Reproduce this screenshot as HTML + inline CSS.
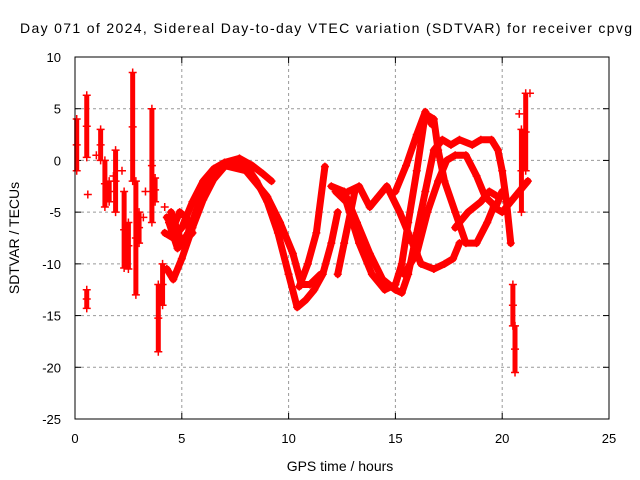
<!DOCTYPE html>
<html><head><meta charset="utf-8"><style>
body{margin:0;background:#fff;}
svg{display:block;font-family:"Liberation Sans",sans-serif;}
</style></head><body>
<svg id="c" width="640" height="480" xmlns="http://www.w3.org/2000/svg">
<text x="20" y="33" font-size="14" textLength="612">Day 071 of 2024, Sidereal Day-to-day VTEC variation (SDTVAR) for receiver cpvg</text>
<text x="340" y="471" font-size="14" text-anchor="middle">GPS time / hours</text>
<text transform="translate(19,238) rotate(-90)" font-size="14" text-anchor="middle">SDTVAR / TECUs</text>
<g id="grid"></g><g id="ticks"></g><g id="marks"></g>
<rect x="75" y="57" width="534" height="362" fill="none" stroke="#000" stroke-width="1"/>
</svg>
<script>
const xTicks=[0,5,10,15,20,25];
const yTicks=[10,5,0,-5,-10,-15,-20,-25];
const trackArc=[[4.3,-10.5],[4.6,-11.5],[5,-9.5],[5.5,-6.5],[6,-3.8],[6.5,-1.8],[7,-0.6],[7.5,-0.1],[8,-0.5],[8.5,-2],[9,-4],[9.5,-7],[10,-11],[10.4,-14.2],[10.8,-13.5],[11.2,-12.5],[11.6,-11],[12,-8],[12.3,-5]];
const trackArc2=[[4.2,-7],[4.6,-7.5],[5,-6.5],[5.5,-4],[6,-2],[6.5,-0.8],[7,-0.2],[7.7,0.2],[8.3,-0.5],[8.8,-1.3],[9.2,-2]];
const trackArc3=[[4.5,-5],[5,-8],[5.3,-7],[6,-3],[7,-0.5],[8,-1],[9,-3.5],[9.6,-6],[10.2,-9],[10.6,-12],[11,-12],[11.5,-11]];
const trackBlob=[[4.3,-5.5],[4.6,-6.5],[4.9,-5],[5.2,-5.5],[5.5,-7],[4.8,-8.5],[4.4,-6]];
const trackRise=[[10.5,-12.2],[10.9,-10],[11.3,-7],[11.7,-0.6]];
const trackRise2=[[12.3,-11],[12.6,-8],[12.9,-5],[13.1,-3]];
const track2=[[12,-2.5],[12.6,-3],[13.2,-6],[13.8,-9],[14.4,-11.5],[15,-12.5],[15.3,-12.8],[15.6,-11],[16,-7],[16.4,-3],[16.8,1],[17.2,2],[17.6,1.5],[18,2],[18.6,1.5],[19,2],[19.5,2],[19.8,1],[20,-1],[20.2,-4],[20.4,-8]];
const track3=[[12.2,-3],[12.7,-4],[13.3,-8],[13.9,-11],[14.5,-12.5],[15,-12],[15.3,-10],[15.6,-6],[16,-1],[16.4,4.5],[16.8,4],[17,1],[17.3,-2],[17.8,-5],[18.3,-8],[18.8,-8],[19.3,-6],[19.6,-4.5],[20,-5],[20.4,-4],[20.8,-3],[21.2,-2]];
const track4=[[12.8,-3],[13.3,-2.5],[13.8,-4.5],[14.2,-3.5],[14.6,-2.5],[15.2,-5],[15.8,-8],[16.2,-10],[16.8,-10.5],[17.3,-10],[17.7,-9.5],[18,-8]];
const track5=[[15.4,-11],[16,-9],[16.5,-5],[17,-2],[17.4,0],[17.8,0.5],[18.3,0.5],[18.8,-1.5],[19.2,-3.5],[19.7,-4.5],[20,-3]];
const track6=[[15,-3],[15.5,-0.5],[16,2.5],[16.4,4.7],[16.7,3.5]];
const track7=[[17.8,-6.5],[18.4,-5],[19,-4],[19.4,-3],[19.8,-3.5]];
const colT=[0.08,0.55,0.55,1.2,1.4,1.6,1.9,2.3,2.5,2.7,2.85,3.0,3.6,3.75,3.9,4.1,20.5,20.6,20.9,21.1];
const colTop=[4,6.3,-12.5,3,0,-2,1,-3,-6,8.5,-2,-5,5,-1.7,-18.5,-14,-12,-16,3,6.5];
const colBot=[-1,0.3,-14.3,0,-4.5,-4,-5,-10.4,-10.5,-2,-13,-8,-6,-4,-12,-10,-16,-20.5,-5,-1];
const singles=[[0.6,-3.3],[3.3,-3],[4.2,-4.5],[4.8,-5.5],[5.2,-6.5],[21.3,6.5],[20.8,4.5],[1.0,0.5],[1.8,-1.5],[2.2,-1],[3.2,-5.5]];

const X=t=>75+t*534/25, Y=v=>57+(10-v)*362/35;
const NS="http://www.w3.org/2000/svg";
function mk(tag,parent,attrs){const e=document.createElementNS(NS,tag);for(const k in attrs)e.setAttribute(k,attrs[k]);parent.appendChild(e);return e;}
const grid=document.getElementById('grid'),ticks=document.getElementById('ticks'),marks=document.getElementById('marks');
xTicks.forEach(t=>{
 if(t>0&&t<25){const g=mk('line',grid,{x1:X(t),x2:X(t),y1:57,y2:419,stroke:'#999','stroke-dasharray':'3,3'});
 
 }
 mk('line',ticks,{x1:X(t),x2:X(t),y1:419,y2:413,stroke:'#000'});
 mk('line',ticks,{x1:X(t),x2:X(t),y1:57,y2:63,stroke:'#000'});
 const l=mk('text',ticks,{x:X(t),y:443,'font-size':13,'text-anchor':'middle'});l.textContent=t;
 
 
});
yTicks.forEach(v=>{
 if(v<10&&v>-25){const g=mk('line',grid,{x1:75,x2:609,y1:Y(v),y2:Y(v),stroke:'#999','stroke-dasharray':'3,3'});
 
 }
 mk('line',ticks,{x1:75,x2:81,y1:Y(v),y2:Y(v),stroke:'#000'});
 mk('line',ticks,{x1:609,x2:603,y1:Y(v),y2:Y(v),stroke:'#000'});
 const l=mk('text',ticks,{x:61,y:Y(v)+5,'font-size':13,'text-anchor':'end'});l.textContent=v;
 
 
});
function plus(t,v){mk('path',marks,{d:`M${X(t)-4},${Y(v)}h8M${X(t)},${Y(v)-4}v8`,stroke:'#f00','stroke-width':1.5});}
const tracks=[trackArc,trackArc2,trackArc3,trackBlob,trackRise,trackRise2,track2,track3,track4,track5,track6,track7];
tracks.forEach(tr=>{
 const p=mk('polyline',marks,{points:tr.map(d=>X(d[0])+','+Y(d[1])).join(' '),fill:'none',stroke:'#f00','stroke-width':7,'stroke-linejoin':'round','stroke-linecap':'round'});
 
 
 tr.forEach(d=>plus(d[0],d[1]));
});
colT.forEach((t,i)=>{
 const p=mk('line',marks,{x1:X(t),x2:X(t),y1:Y(colTop[i]),y2:Y(colBot[i]),stroke:'#f00','stroke-width':5});
 
 
 plus(t,colTop[i]);plus(t,colBot[i]);plus(t,(colTop[i]+colBot[i])/2);
});
singles.forEach(d=>plus(d[0],d[1]));
</script>
</body></html>
